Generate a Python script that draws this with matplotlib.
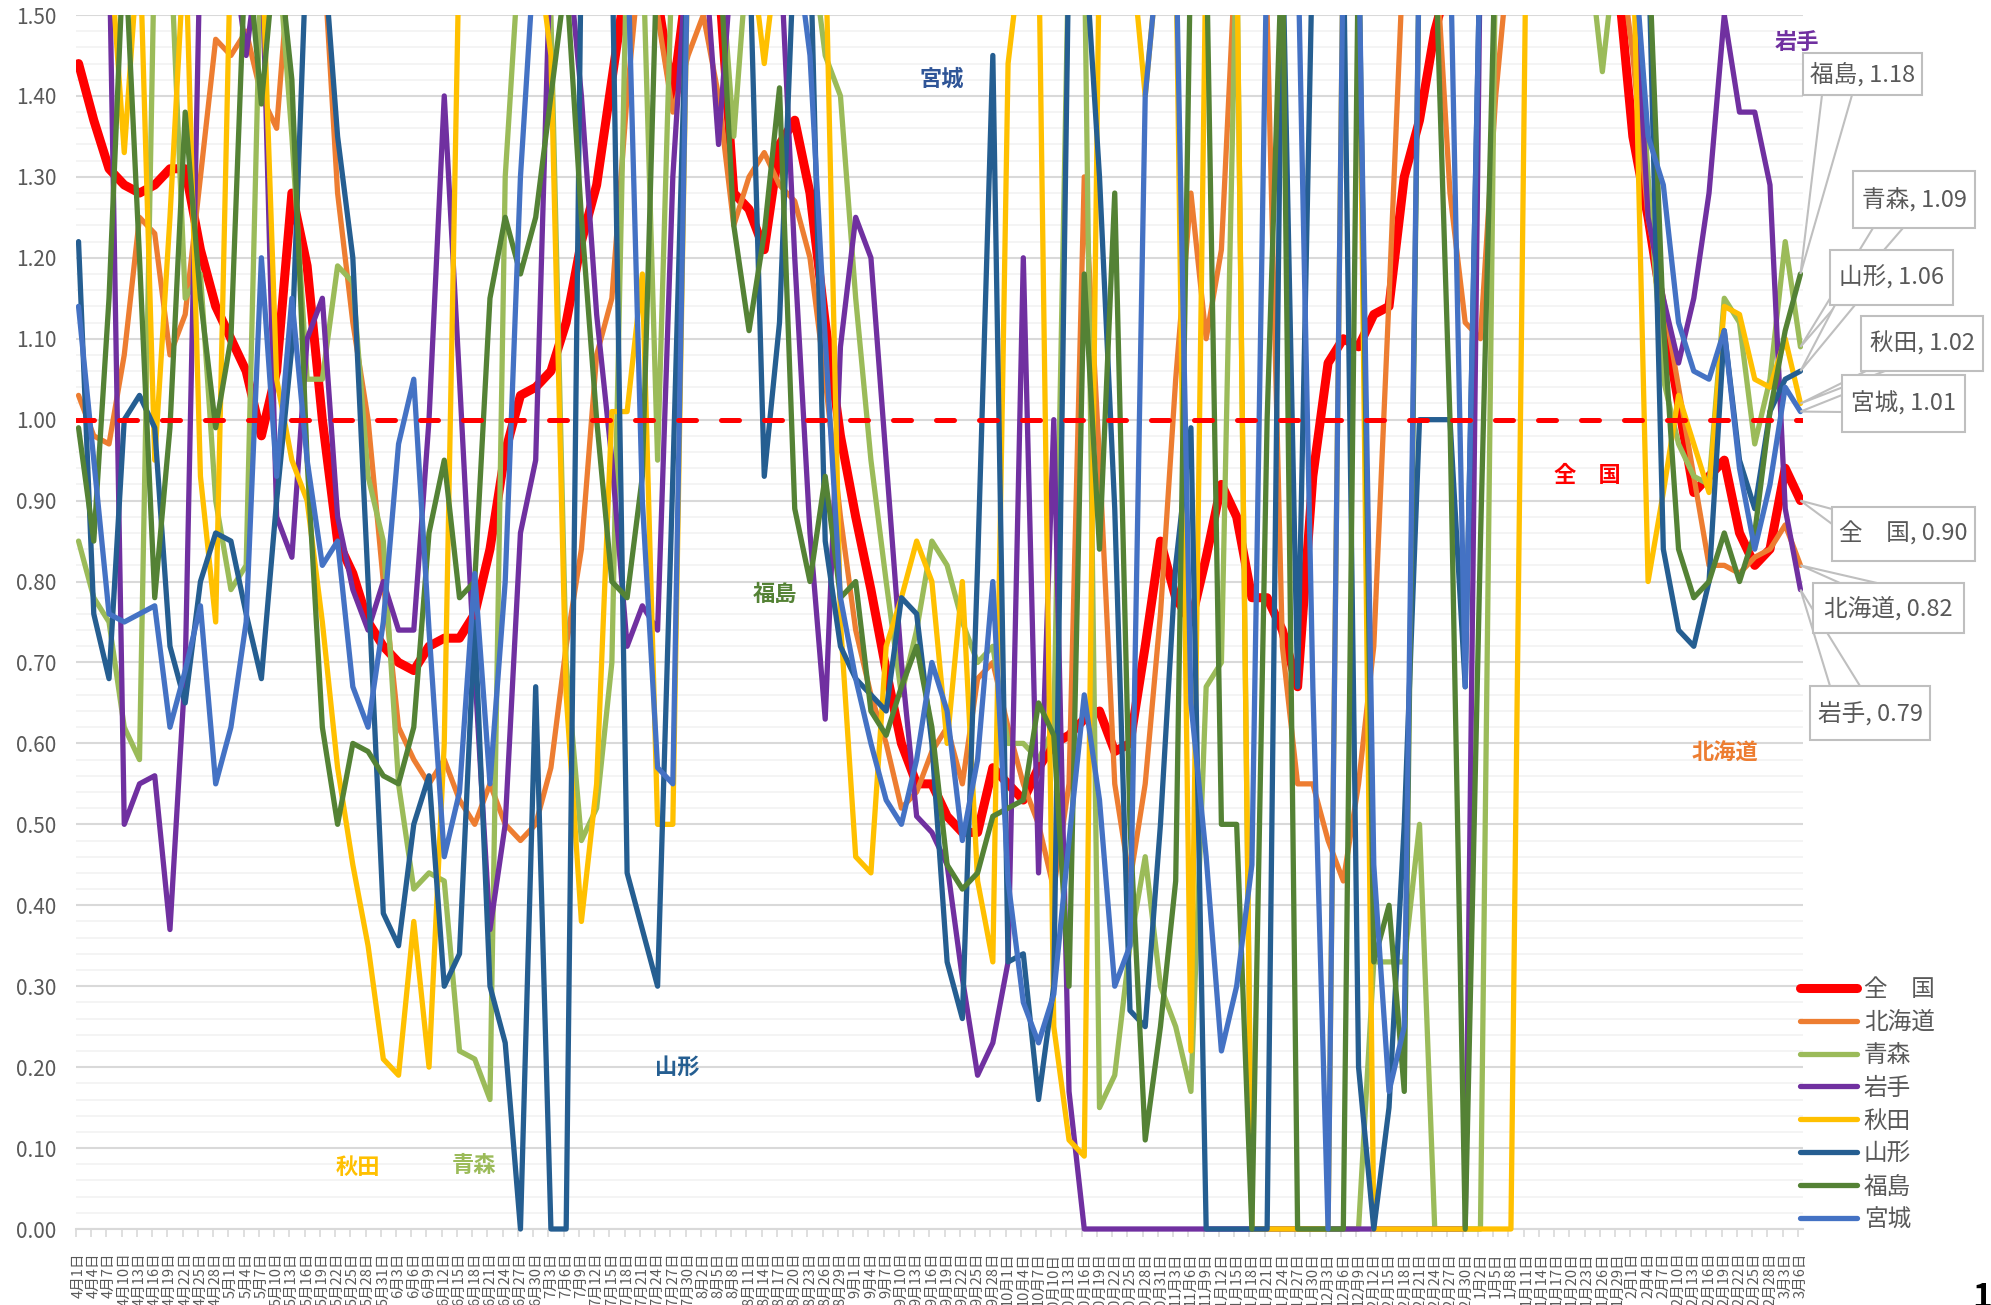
import numpy as np
import pandas as pd
import matplotlib
matplotlib.use("Agg")
import matplotlib.pyplot as plt
from matplotlib.patches import Polygon, Rectangle
from matplotlib.ticker import MultipleLocator, FixedLocator

plt.rcParams['font.family'] = ['Noto Sans CJK JP', 'DejaVu Sans']

W, H = 1991, 1305

# values read every 3 days, 2021-04-01 .. 2022-03-06 (values > 1.5 run off the chart)
dates = pd.date_range('2021-04-01', '2022-03-06', freq='3D')

zenkoku = [
    1.44, 1.37, 1.31, 1.29, 1.28, 1.29, 1.31, 1.31, 1.21, 1.14,
    1.10, 1.06, 0.98, 1.06, 1.28, 1.19, 1.00, 0.85, 0.81, 0.75,
    0.72, 0.70, 0.69, 0.72, 0.73, 0.73, 0.76, 0.84, 0.96, 1.03,
    1.04, 1.06, 1.12, 1.22, 1.29, 1.42, 1.55, 1.60, 1.52, 1.40,
    1.55, 1.62, 1.55, 1.28, 1.26, 1.21, 1.34, 1.37, 1.28, 1.12,
    0.98, 0.88, 0.79, 0.69, 0.60, 0.55, 0.55, 0.51, 0.49, 0.49,
    0.57, 0.55, 0.53, 0.57, 0.60, 0.61, 0.63, 0.64, 0.59, 0.60,
    0.72, 0.85, 0.78, 0.75, 0.83, 0.92, 0.88, 0.78, 0.78, 0.74,
    0.67, 0.93, 1.07, 1.10, 1.09, 1.13, 1.14, 1.30, 1.37, 1.48,
    1.55, 1.80, 1.80, 1.80, 1.80, 1.80, 1.80, 1.80, 1.80, 1.80,
    1.80, 1.55, 1.35, 1.25, 1.13, 1.02, 0.91, 0.93, 0.95, 0.86,
    0.82, 0.84, 0.94, 0.90]

hokkaido = [
    1.03, 0.98, 0.97, 1.08, 1.25, 1.23, 1.08, 1.13, 1.30, 1.47,
    1.45, 1.48, 1.40, 1.36, 1.60, 1.60, 1.60, 1.28, 1.12, 1.00,
    0.80, 0.62, 0.58, 0.55, 0.58, 0.53, 0.50, 0.55, 0.50, 0.48,
    0.50, 0.57, 0.72, 0.84, 1.08, 1.15, 1.40, 1.60, 1.50, 1.38,
    1.45, 1.50, 1.40, 1.24, 1.30, 1.33, 1.29, 1.27, 1.20, 1.05,
    0.88, 0.74, 0.66, 0.60, 0.52, 0.54, 0.59, 0.62, 0.55, 0.68,
    0.70, 0.62, 0.55, 0.50, 0.42, 0.55, 1.30, 0.95, 0.55, 0.43,
    0.55, 0.76, 1.05, 1.28, 1.10, 1.21, 1.60, 1.60, 1.50, 0.72,
    0.55, 0.55, 0.48, 0.43, 0.55, 0.72, 1.15, 1.60, 1.60, 1.60,
    1.28, 1.12, 1.10, 1.40, 1.60, 1.60, 1.60, 1.60, 1.60, 1.60,
    1.60, 1.60, 1.45, 1.25, 1.15, 1.04, 0.93, 0.82, 0.82, 0.81,
    0.83, 0.84, 0.87, 0.82]

aomori = [
    0.85, 0.78, 0.75, 0.62, 0.58, 1.60, 1.60, 1.15, 1.18, 0.90,
    0.79, 0.82, 1.60, 1.60, 1.35, 1.05, 1.05, 1.19, 1.17, 0.93,
    0.85, 0.55, 0.42, 0.44, 0.43, 0.22, 0.21, 0.16, 1.30, 1.60,
    1.60, 1.50, 0.70, 0.48, 0.52, 0.70, 1.60, 1.60, 0.95, 1.60,
    1.60, 1.60, 1.60, 1.35, 1.60, 1.60, 1.60, 1.60, 1.60, 1.45,
    1.40, 1.15, 0.95, 0.80, 0.66, 0.74, 0.85, 0.82, 0.75, 0.70,
    0.72, 0.60, 0.60, 0.58, 0.62, 1.60, 1.60, 0.15, 0.19, 0.35,
    0.46, 0.30, 0.25, 0.17, 0.67, 0.70, 1.60, 0.00, 0.00, 0.00,
    0.00, 0.00, 0.00, 0.00, 0.00, 0.33, 0.33, 0.33, 0.50, 0.00,
    0.00, 0.00, 0.00, 1.60, 1.60, 1.60, 1.60, 1.60, 1.60, 1.60,
    1.43, 1.60, 1.60, 1.30, 1.05, 0.97, 0.93, 0.92, 1.15, 1.12,
    0.97, 1.05, 1.22, 1.09]

iwate = [
    1.60, 1.60, 1.60, 0.50, 0.55, 0.56, 0.37, 0.69, 1.60, 1.60,
    1.60, 1.45, 1.60, 0.88, 0.83, 1.10, 1.15, 0.88, 0.79, 0.74,
    0.80, 0.74, 0.74, 1.00, 1.40, 1.05, 0.69, 0.37, 0.50, 0.86,
    0.95, 1.60, 1.60, 1.40, 1.13, 0.95, 0.72, 0.77, 0.74, 1.30,
    1.60, 1.60, 1.34, 1.60, 1.60, 1.60, 1.60, 1.20, 0.86, 0.63,
    1.09, 1.25, 1.20, 0.95, 0.70, 0.51, 0.49, 0.45, 0.31, 0.19,
    0.23, 0.33, 1.20, 0.44, 1.00, 0.17, 0.00, 0.00, 0.00, 0.00,
    0.00, 0.00, 0.00, 0.00, 0.00, 0.00, 0.00, 0.00, 0.00, 0.00,
    0.00, 0.00, 0.00, 0.00, 0.00, 0.00, 0.00, 0.00, 0.00, 0.00,
    0.00, 0.00, 1.60, 1.60, 1.60, 1.60, 1.60, 1.60, 1.60, 1.60,
    1.60, 1.60, 1.60, 1.25, 1.15, 1.07, 1.15, 1.28, 1.50, 1.38,
    1.38, 1.29, 0.89, 0.79]

akita = [
    1.60, 1.60, 1.60, 1.33, 1.60, 0.95, 1.25, 1.60, 0.93, 0.75,
    1.60, 1.60, 1.60, 1.05, 0.95, 0.90, 0.75, 0.57, 0.45, 0.35,
    0.21, 0.19, 0.38, 0.20, 0.60, 1.60, 1.60, 1.60, 1.60, 1.60,
    1.60, 1.45, 0.66, 0.38, 0.55, 1.01, 1.01, 1.18, 0.50, 0.50,
    1.60, 1.60, 1.60, 1.60, 1.60, 1.44, 1.60, 1.60, 1.60, 1.60,
    0.75, 0.46, 0.44, 0.72, 0.78, 0.85, 0.80, 0.60, 0.80, 0.43,
    0.33, 1.44, 1.60, 1.60, 0.25, 0.11, 0.09, 1.60, 1.60, 1.60,
    1.40, 1.60, 1.60, 0.22, 1.60, 1.60, 1.60, 0.00, 0.00, 0.00,
    0.00, 0.00, 0.00, 1.60, 1.60, 0.00, 0.00, 0.00, 0.00, 0.00,
    0.00, 0.00, 0.00, 0.00, 0.00, 1.60, 1.60, 1.60, 1.60, 1.60,
    1.60, 1.60, 1.60, 0.80, 0.91, 1.03, 0.97, 0.91, 1.14, 1.13,
    1.05, 1.04, 1.10, 1.02]

yamagata = [
    1.22, 0.76, 0.68, 1.00, 1.03, 0.99, 0.72, 0.65, 0.80, 0.86,
    0.85, 0.76, 0.68, 0.90, 1.09, 1.60, 1.60, 1.35, 1.20, 0.80,
    0.39, 0.35, 0.50, 0.56, 0.30, 0.34, 0.75, 0.30, 0.23, 0.00,
    0.67, 0.00, 0.00, 1.60, 1.60, 1.60, 0.44, 0.37, 0.30, 0.93,
    1.60, 1.60, 1.60, 1.60, 1.60, 0.93, 1.12, 1.60, 1.60, 0.85,
    0.72, 0.68, 0.66, 0.64, 0.78, 0.76, 0.60, 0.33, 0.26, 0.82,
    1.45, 0.33, 0.34, 0.16, 0.30, 1.60, 1.60, 1.30, 0.89, 0.27,
    0.25, 0.50, 0.82, 0.99, 0.00, 0.00, 0.00, 0.00, 0.00, 1.60,
    0.67, 1.60, 1.60, 1.60, 0.20, 0.00, 0.15, 0.50, 1.00, 1.00,
    1.00, 0.67, 1.60, 1.60, 1.60, 1.60, 1.60, 1.60, 1.60, 1.60,
    1.60, 1.60, 1.60, 1.60, 0.84, 0.74, 0.72, 0.80, 1.11, 0.95,
    0.89, 1.01, 1.05, 1.06]

fukushima = [
    0.99, 0.85, 1.15, 1.60, 1.20, 0.78, 0.99, 1.38, 1.15, 0.99,
    1.10, 1.60, 1.39, 1.60, 1.42, 0.95, 0.62, 0.50, 0.60, 0.59,
    0.56, 0.55, 0.62, 0.86, 0.95, 0.78, 0.80, 1.15, 1.25, 1.18,
    1.25, 1.40, 1.55, 1.25, 1.00, 0.80, 0.78, 0.93, 1.60, 1.60,
    1.60, 1.60, 1.60, 1.24, 1.11, 1.23, 1.41, 0.89, 0.80, 0.93,
    0.78, 0.80, 0.64, 0.61, 0.67, 0.72, 0.62, 0.45, 0.42, 0.44,
    0.51, 0.52, 0.53, 0.65, 0.61, 0.30, 1.18, 0.84, 1.28, 0.50,
    0.11, 0.25, 0.43, 1.60, 1.60, 0.50, 0.50, 0.00, 1.00, 1.60,
    0.00, 0.00, 0.00, 0.00, 1.60, 0.33, 0.40, 0.17, 1.60, 1.60,
    1.00, 0.00, 0.85, 1.60, 1.60, 1.60, 1.60, 1.60, 1.60, 1.60,
    1.60, 1.60, 1.60, 1.60, 1.12, 0.84, 0.78, 0.80, 0.86, 0.80,
    0.86, 1.01, 1.11, 1.18]

miyagi = [
    1.14, 0.95, 0.76, 0.75, 0.76, 0.77, 0.62, 0.69, 0.77, 0.55,
    0.62, 0.75, 1.20, 0.93, 1.15, 0.95, 0.82, 0.85, 0.67, 0.62,
    0.75, 0.97, 1.05, 0.74, 0.46, 0.54, 0.81, 0.55, 0.80, 1.30,
    1.60, 1.60, 1.60, 1.60, 1.60, 1.60, 1.60, 0.90, 0.57, 0.55,
    1.60, 1.60, 1.60, 1.60, 1.60, 1.60, 1.60, 1.60, 1.45, 1.10,
    0.78, 0.68, 0.60, 0.53, 0.50, 0.58, 0.70, 0.64, 0.48, 0.58,
    0.80, 0.43, 0.28, 0.23, 0.29, 0.48, 0.66, 0.53, 0.30, 0.35,
    1.40, 1.60, 1.60, 0.65, 0.46, 0.22, 0.30, 0.45, 1.60, 1.60,
    1.60, 0.67, 0.00, 1.60, 1.60, 0.45, 0.17, 0.25, 1.60, 1.60,
    1.60, 0.67, 1.60, 1.60, 1.60, 1.60, 1.60, 1.60, 1.60, 1.60,
    1.60, 1.60, 1.60, 1.35, 1.29, 1.12, 1.06, 1.05, 1.11, 0.94,
    0.84, 0.92, 1.04, 1.01]

names = ['全　国', '北海道', '青森', '岩手', '秋田', '山形', '福島', '宮城']
colors = ['#FF0000', '#ED7D31', '#9BBB59', '#7030A0', '#FFC000', '#255E91', '#548235', '#4472C4']
series = [zenkoku, hokkaido, aomori, iwate, akita, yamagata, fukushima, miyagi]


def fig_xy(x, y):
    """pixel position (from top-left) -> figure fraction"""
    return (x / W, 1 - y / H)


fig = plt.figure(figsize=(W / 100, H / 100), dpi=100)
ax = fig.add_axes([76 / W, 1 - 1229 / H, (1803 - 76) / W, (1229 - 15) / H])

days = (dates - dates[0]).days.values
clip = Rectangle((0, -0.004), 1, 1.004, transform=ax.transAxes)

lines = []
for i, (vals, c) in enumerate(zip(series, colors)):
    lw = 6.5 if i == 0 else 3.8
    ln, = ax.plot(days, vals, color=c, lw=lw, solid_joinstyle='round',
                  solid_capstyle='round', zorder=3 + i)
    ln.set_clip_path(clip)
    lines.append(ln)

ax.axhline(1.0, color='#FF0000', lw=3.6, dashes=(3.6, 5.0),
           dash_capstyle='round', zorder=20)

ax.set_xlim(-0.5, 339.5)
ax.set_ylim(0, 1.5)
ax.yaxis.set_major_locator(MultipleLocator(0.1))
ax.yaxis.set_minor_locator(MultipleLocator(0.02))
ax.yaxis.set_major_formatter(plt.FuncFormatter(lambda v, p: f"{v:.2f}"))
ax.grid(which='major', axis='y', color='#D9D9D9', lw=1.5)
ax.grid(which='minor', axis='y', color='#F2F2F2', lw=1.2)
ax.set_axisbelow(True)
for s in ['left', 'right', 'top']:
    ax.spines[s].set_visible(False)
ax.spines['bottom'].set_color('#D9D9D9')
ax.spines['bottom'].set_linewidth(1.5)
ax.tick_params(axis='y', which='both', length=0, labelsize=15,
               labelcolor='#595959', pad=14)

# date labels run off the bottom edge, as in the original
ax.xaxis.set_major_locator(FixedLocator(days))
ax.set_xticklabels([f"{d.month}月{d.day}日" for d in dates], rotation=90,
                   va='top', ha='center')
ax.xaxis.set_minor_locator(FixedLocator(np.arange(-0.5, 339, 3)))
ax.tick_params(axis='x', which='major', length=0, labelsize=10.5,
               labelcolor='#595959', pad=17)
ax.tick_params(axis='x', which='minor', length=6, width=1.2,
               color='#D9D9D9', direction='out')

# legend
leg = ax.legend(lines, names, loc='upper left',
                bbox_to_anchor=fig_xy(1800, 978), bbox_transform=fig.transFigure,
                frameon=False, fontsize=17, handlelength=2.4, handletextpad=0.3,
                labelspacing=0.42, borderpad=0, borderaxespad=0)
for t in leg.get_texts():
    t.set_color('#595959')

# labels inside the plot
inplot = [
    ('岩手', 1797, 42, '#7030A0'),
    ('宮城', 942, 79, '#2F5597'),
    ('福島', 775, 594, '#548235'),
    ('山形', 677, 1067, '#255E91'),
    ('秋田', 358, 1168, '#FFC000'),
    ('青森', 474, 1166, '#9BBB59'),
    ('全　国', 1587, 476, '#FF0000'),
    ('北海道', 1725, 753, '#ED7D31'),
]
for txt, x, y, c in inplot:
    fig.text(*fig_xy(x, y), txt, color=c, fontsize=16, fontweight='bold',
             ha='center', va='center', zorder=30)

# data callouts for the last day
callouts = {
    '福島': ((1803, 53, 1922, 95), (1822, 95), (1852, 95)),
    '青森': ((1853, 171, 1975, 228), (1873, 228), (1903, 228)),
    '山形': ((1830, 250, 1953, 305), (1835, 305), (1855, 305)),
    '秋田': ((1861, 316, 1983, 371), (1866, 371), (1885, 371)),
    '宮城': ((1842, 375, 1965, 432), (1842, 395), (1842, 412)),
    '全　国': ((1832, 507, 1975, 561), (1832, 509), (1832, 524)),
    '北海道': ((1813, 583, 1964, 633), (1840, 583), (1877, 583)),
    '岩手': ((1810, 686, 1930, 740), (1830, 686), (1860, 686)),
}
inv = fig.transFigure.inverted()
for name, (box, b1, b2) in callouts.items():
    vals = series[names.index(name)]
    tip = inv.transform(ax.transData.transform((days[-1], vals[-1])))
    wedge = Polygon([fig_xy(*b1), tip, fig_xy(*b2)], closed=True,
                    facecolor='white', edgecolor='#BFBFBF', lw=1.5,
                    transform=fig.transFigure, zorder=40)
    fig.add_artist(wedge)
    x0, y0, x1, y1 = box
    rect = Rectangle(fig_xy(x0, y1), (x1 - x0) / W, (y1 - y0) / H,
                     facecolor='white', edgecolor='#BFBFBF', lw=1.5,
                     transform=fig.transFigure, zorder=41)
    fig.add_artist(rect)
    fig.text(*fig_xy((x0 + x1) / 2, (y0 + y1) / 2), f"{name}, {vals[-1]:.2f}",
             color='#595959', fontsize=17, ha='center', va='center', zorder=42)

# page number, cut by the right edge in the original too
fig.text(*fig_xy(1972, 1282), '19', fontsize=24, fontweight='bold',
         color='black', ha='left', va='top')

fig.savefig('out.png', dpi=100)
